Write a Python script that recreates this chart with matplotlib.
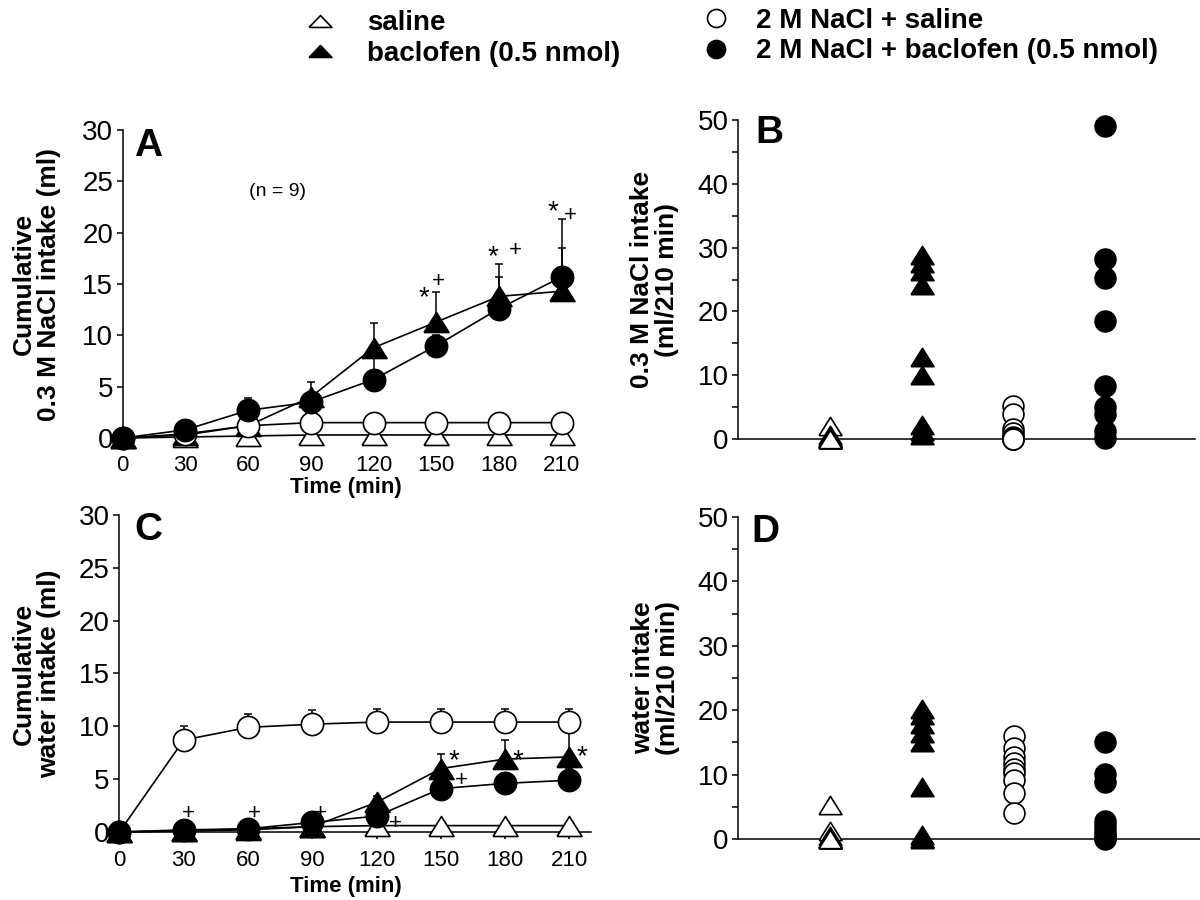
import numpy as np
import matplotlib
matplotlib.use("Agg")
import matplotlib.pyplot as plt
from matplotlib.lines import Line2D
from matplotlib.ticker import MultipleLocator

plt.rcParams['font.family'] = ['Liberation Sans', 'DejaVu Sans']

# ---------------- data ----------------
time_min = [0, 30, 60, 90, 120, 150, 180, 210]

# Panel A: cumulative 0.3 M NaCl intake (ml)
a_saline = [0, 0.1, 0.2, 0.3, 0.3, 0.3, 0.3, 0.3]
a_saline_err = [0, 0.1, 0.1, 0.1, 0.1, 0.1, 0.1, 0.1]
a_baclofen = [0, 0.3, 1.2, 4.0, 8.8, 11.3, 13.8, 14.3]
a_baclofen_err = [0, 0.2, 0.5, 1.5, 2.4, 2.9, 3.2, 4.2]
a_nacl_saline = [0, 0.4, 1.2, 1.5, 1.5, 1.5, 1.5, 1.5]
a_nacl_saline_err = [0, 0.2, 0.3, 0.3, 0.3, 0.3, 0.3, 0.3]
a_nacl_baclofen = [0, 0.8, 2.7, 3.5, 5.7, 9.0, 12.6, 15.7]
a_nacl_baclofen_err = [0, 0.3, 1.2, 1.0, 2.2, 1.0, 3.1, 5.6]

# Panel C: cumulative water intake (ml)
c_saline = [0, 0.1, 0.3, 0.5, 0.6, 0.6, 0.6, 0.6]
c_saline_err = [0, 0.1, 0.1, 0.1, 0.1, 0.1, 0.1, 0.1]
c_baclofen = [0, 0.1, 0.2, 0.5, 2.8, 6.0, 6.9, 7.1]
c_baclofen_err = [0, 0.1, 0.2, 0.3, 0.6, 1.4, 1.8, 3.2]
c_nacl_saline = [0, 8.7, 9.9, 10.2, 10.4, 10.4, 10.4, 10.4]
c_nacl_saline_err = [0, 1.3, 1.3, 1.3, 1.2, 1.2, 1.2, 1.2]
c_nacl_baclofen = [0, 0.2, 0.3, 0.9, 1.5, 4.1, 4.6, 4.9]
c_nacl_baclofen_err = [0, 0.3, 0.3, 0.3, 0.5, 0.8, 1.0, 1.2]

# Panel B: individual 0.3 M NaCl intake (ml/210 min), n = 9 per group
b_saline = [2.0, 0.6, 0.3, 0.2, 0.1, 0, 0, 0, 0]
b_baclofen = [28.9, 27.6, 26.3, 24.2, 12.9, 10.1, 2.2, 1.2, 0.7]
b_nacl_saline = [5.2, 4.0, 1.5, 1.0, 0.3, 0.2, 0, 0, 0]
b_nacl_baclofen = [49.1, 28.2, 25.3, 18.5, 8.3, 5.0, 4.0, 1.2, 0.2]

# Panel D: individual water intake (ml/210 min)
d_saline = [5.3, 1.2, 0.5, 0.2, 0, 0, 0, 0, 0]
d_baclofen = [20.2, 19.2, 17.8, 16.5, 15.0, 8.0, 0.6, 0.2, 0]
d_nacl_saline = [16.0, 14.1, 12.8, 11.8, 10.8, 10.2, 9.2, 7.1, 4.1]
d_nacl_baclofen = [15.1, 10.1, 8.9, 2.8, 2.0, 1.3, 0.6, 0.2, 0]

group_labels = ["saline", "baclofen (0.5 nmol)",
                "2 M NaCl + saline", "2 M NaCl + baclofen (0.5 nmol)"]
group_pos = [1, 2, 3, 4]

# significance annotations (symbol, x, y)
a_marks = [("*", 144, 13.6), ("+", 151, 15.2), ("*", 177, 17.6), ("+", 188, 18.3),
           ("*", 206, 22.0), ("+", 214, 21.7)]
c_marks = [("+", 32, 1.7), ("+", 63, 1.7), ("+", 94, 1.7), ("+", 129, 0.8),
           ("+", 159.5, 4.9), ("*", 156, 6.7), ("*", 186, 6.7), ("*", 216, 7.1)]

# ---------------- styles ----------------
TRI = [(-1, -0.8), (1, -0.8), (0, 0.8), (-1, -0.8)]
TRI_FLAT = [(-1, -0.52), (1, -0.52), (0, 0.52), (-1, -0.52)]
styles = [
    dict(marker=TRI, mfc='white', mec='black'),
    dict(marker=TRI, mfc='black', mec='black'),
    dict(marker='o', mfc='white', mec='black'),
    dict(marker='o', mfc='black', mec='black'),
]
msize_time = [18, 18, 16, 16]
msize_scatter = [16.5, 16.5, 15, 15]

fig = plt.figure(figsize=(12, 9), dpi=100)

axA = fig.add_axes([0.1023, 0.5133, 0.3832, 0.3422])
axC = fig.add_axes([0.0995, 0.0756, 0.3929, 0.3522])
axB = fig.add_axes([0.6154, 0.5122, 0.3804, 0.3544])
axD = fig.add_axes([0.6154, 0.0678, 0.3846, 0.3578])


def time_panel(ax, series, errs, marks, ylabel, bottom_spine):
    order = [2, 0, 3, 1]  # drawing order
    for i in order:
        st = styles[i]
        y = np.array(series[i], dtype=float)
        e = np.array(errs[i], dtype=float)
        ax.errorbar(time_min, y, yerr=[np.zeros_like(e), e], fmt='none',
                    ecolor='black', elinewidth=1.1, capsize=3, capthick=1.1,
                    zorder=2 + i, clip_on=False)
        ax.plot(time_min, y, color='black', lw=1.2, marker=st['marker'],
                mfc=st['mfc'], mec=st['mec'], mew=1.2, ms=msize_time[i],
                zorder=3 + i, clip_on=False)
    ax.set_xlim(0, 220)
    ax.set_ylim(0, 30)
    ax.set_xticks(time_min)
    ax.yaxis.set_major_locator(MultipleLocator(5))
    for s in ['top', 'right']:
        ax.spines[s].set_visible(False)
    ax.spines['left'].set_linewidth(1.1)
    if bottom_spine:
        ax.spines['bottom'].set_linewidth(1.1)
        ax.tick_params(axis='x', direction='out', length=5, width=1.1, pad=8,
                       labelsize=16)
    else:
        ax.spines['bottom'].set_visible(False)
        ax.tick_params(axis='x', length=0, pad=12, labelsize=16)
    ax.tick_params(axis='y', direction='out', length=4, width=1.1, pad=3,
                   labelsize=20)
    ax.set_xlabel("Time (min)", fontsize=16, fontweight='bold')
    ax.set_ylabel(ylabel, fontsize=19, fontweight='bold', linespacing=1.05)
    for sym, x, y in marks:
        ax.text(x, y, sym, fontsize=20 if sym == "*" else 16, ha='center',
                va='center', zorder=20)


time_panel(axA, [a_saline, a_baclofen, a_nacl_saline, a_nacl_baclofen],
           [a_saline_err, a_baclofen_err, a_nacl_saline_err, a_nacl_baclofen_err],
           a_marks, "Cumulative\n0.3 M NaCl intake (ml)", False)
axA.text(12.3, 28.4, "A", fontsize=28, fontweight='bold', ha='center', va='center')
axA.text(74, 24.0, "(n = 9)", fontsize=14, ha='center', va='center')
axA.yaxis.set_label_coords(-0.134, 0.5)
axA.xaxis.set_label_coords(0.485, -0.128)

time_panel(axC, [c_saline, c_baclofen, c_nacl_saline, c_nacl_baclofen],
           [c_saline_err, c_baclofen_err, c_nacl_saline_err, c_nacl_baclofen_err],
           c_marks, "Cumulative\nwater intake (ml)", True)
axC.text(13.3, 28.6, "C", fontsize=28, fontweight='bold', ha='center', va='center')
axC.yaxis.set_label_coords(-0.124, 0.5)
axC.xaxis.set_label_coords(0.48, -0.14)


def scatter_panel(ax, groups, letter, ylabel, xmax, letter_xy):
    for i, vals in enumerate(groups):
        st = styles[i]
        ax.plot([group_pos[i]] * len(vals), vals, linestyle='none',
                marker=st['marker'], mfc=st['mfc'], mec=st['mec'], mew=1.2,
                ms=msize_scatter[i], clip_on=False, zorder=3)
    ax.set_xlim(0, xmax)
    ax.set_ylim(0, 50)
    ax.set_xticks([])
    ax.yaxis.set_major_locator(MultipleLocator(10))
    ax.yaxis.set_minor_locator(MultipleLocator(5))
    for s in ['top', 'right']:
        ax.spines[s].set_visible(False)
    ax.spines['left'].set_linewidth(1.1)
    ax.spines['bottom'].set_linewidth(1.1)
    ax.tick_params(axis='y', which='both', direction='out', length=4,
                   width=1.1, pad=3, labelsize=20)
    ax.set_ylabel(ylabel, fontsize=19, fontweight='bold', linespacing=1.05)
    ax.text(letter_xy[0], letter_xy[1], letter, fontsize=28, fontweight='bold',
            ha='center', va='center')


scatter_panel(axB, [b_saline, b_baclofen, b_nacl_saline, b_nacl_baclofen],
              "B", "0.3 M NaCl intake\n(ml/210 min)", 4.98, (0.34, 48.0))
axB.yaxis.set_label_coords(-0.131, 0.5)
scatter_panel(axD, [d_saline, d_baclofen, d_nacl_saline, d_nacl_baclofen],
              "D", "water intake\n(ml/210 min)", 5.03, (0.29, 47.7))
axD.yaxis.set_label_coords(-0.127, 0.5)

# ---------------- legends ----------------
leg_markers = [TRI_FLAT, TRI_FLAT, 'o', 'o']
leg_sizes = [16.5, 16.5, 13, 13]
handles = [Line2D([], [], linestyle='none', marker=leg_markers[i],
                  mfc=styles[i]['mfc'], mec=styles[i]['mec'], mew=1.2,
                  ms=leg_sizes[i]) for i in range(4)]
fig.legend(handles[:2], group_labels[:2], loc='upper left',
           bbox_to_anchor=(0.233, 1.01), frameon=False,
           prop=dict(size=20, weight='bold'), handletextpad=0.96,
           labelspacing=0.17, handlelength=1.5, borderpad=0.2)
fig.legend(handles[2:], group_labels[2:], loc='upper left',
           bbox_to_anchor=(0.563, 1.013), frameon=False,
           prop=dict(size=20, weight='bold'), handletextpad=0.71,
           labelspacing=0.17, handlelength=1.5, borderpad=0.2)

fig.savefig("out.png", dpi=100)
